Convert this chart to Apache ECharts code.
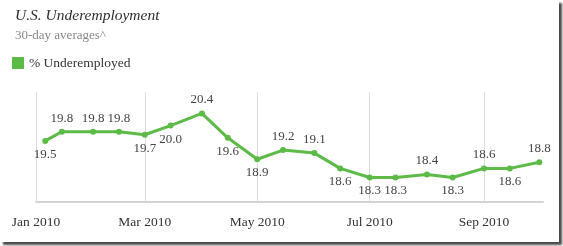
<!DOCTYPE html>
<html>
<head>
<meta charset="utf-8">
<script src="https://cdn.jsdelivr.net/npm/echarts@6/dist/echarts.min.js"></script>
<style>
html,body{margin:0;padding:0;background:#fff;}
#wrap{position:relative;width:563px;height:246px;overflow:hidden;}
#chart{position:absolute;left:0;top:0;width:559px;height:242px;background:#fff;box-shadow:3px 3px 2px #4a4a4a;}
</style>
</head>
<body>
<div id="wrap"><div id="chart"></div></div>
<script>
const dates = ['2010-01-06','2010-01-15','2010-02-01','2010-02-15','2010-03-01','2010-03-15','2010-04-01','2010-04-15','2010-05-01','2010-05-15','2010-06-01','2010-06-15','2010-07-01','2010-07-15','2010-08-01','2010-08-15','2010-09-01','2010-09-15','2010-10-01'];
const underemployed = [19.5,19.8,19.8,19.8,19.7,20.0,20.4,19.6,18.9,19.2,19.1,18.6,18.3,18.3,18.4,18.3,18.6,18.6,18.8];
const tickDates = ['2010-01-01','2010-03-01','2010-05-01','2010-07-01','2010-09-01'];
const tickLabels = ['Jan 2010','Mar 2010','May 2010','Jul 2010','Sep 2010'];
const seriesName = '% Underemployed';
const titleText = 'U.S. Underemployment';
const subtitleText = '30-day averages^';

const labelSide = ['bottom','top','top','top','bottom','bottom','top','bottom','bottom','top','top','bottom','bottom','bottom','top','bottom','top','bottom','top'];

const ts = s => new Date(s + 'T00:00:00Z').getTime();
const tickTs = tickDates.map(ts);
const serif = '"Liberation Serif", "DejaVu Serif", serif';
const green = '#5cbb47';

const chart = echarts.init(document.getElementById('chart'));
chart.setOption({
  animation: false,
  title: [{
    text: titleText, left: 10, top: 3,
    textStyle: {fontFamily: serif, fontStyle: 'italic', fontWeight: 'normal', fontSize: 15.5, color: '#2e2e2e'}
  }, {
    text: subtitleText, left: 10, top: 24,
    textStyle: {fontFamily: serif, fontWeight: 'normal', fontSize: 13, color: '#888'}
  }],
  legend: {
    left: 12, top: 56, itemWidth: 12, itemHeight: 12, icon: 'rect', itemGap: 8, padding: 0,
    textStyle: {fontFamily: serif, fontSize: 13.5, color: '#333'},
    data: [seriesName]
  },
  grid: {left: 36, right: 16, top: 92, bottom: 40},
  xAxis: {
    type: 'value',
    min: ts('2010-01-01'), max: ts('2010-10-03'),
    axisLine: {show: true, lineStyle: {color: '#d4d4d4', width: 2}},
    axisTick: {show: false, customValues: tickTs},
    axisLabel: {
      customValues: tickTs, margin: 13, showMinLabel: true, showMaxLabel: true, hideOverlap: false,
      fontFamily: serif, fontSize: 13.5, color: '#333',
      formatter: v => { const i = tickTs.indexOf(v); return i >= 0 ? tickLabels[i] : ''; }
    },
    splitLine: {show: true, lineStyle: {color: '#dcdcdc', width: 1}}
  },
  yAxis: {
    type: 'value', min: 17.5, max: 21.1, show: false, splitLine: {show: false}
  },
  series: [{
    name: seriesName, type: 'line',
    data: dates.map((d, i) => ({
      value: [ts(d), underemployed[i]],
      label: {position: labelSide[i]}
    })),
    symbol: 'circle', symbolSize: 6,
    lineStyle: {color: green, width: 3},
    itemStyle: {color: green},
    label: {
      show: true, distance: 4, fontFamily: serif, fontSize: 13, color: '#444',
      formatter: p => p.value[1].toFixed(1)
    }
  }]
});
</script>
</body>
</html>
